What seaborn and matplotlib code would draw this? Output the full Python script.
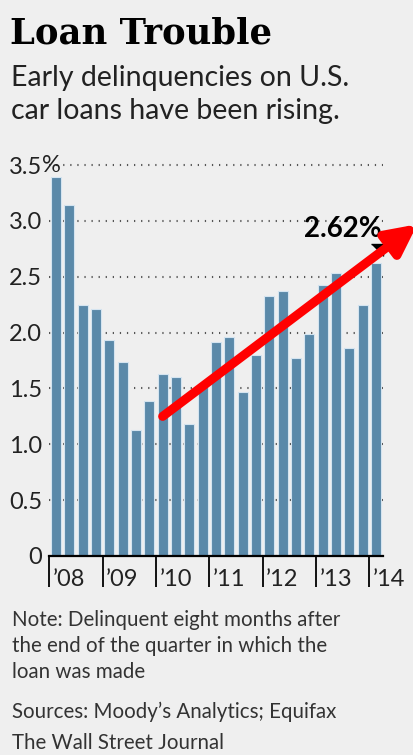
import numpy as np
import seaborn as sns
import matplotlib.pyplot as plt
from matplotlib.transforms import blended_transform_factory

# data: early delinquency rate per quarter, 2008Q1 - 2014Q1
quarters = [f"{y}Q{q}" for y in range(2008, 2015) for q in range(1, 5)][:25]
rates = [3.39, 3.14, 2.25, 2.21, 1.93, 1.74, 1.13, 1.39, 1.63, 1.60,
         1.18, 1.53, 1.92, 1.96, 1.47, 1.80, 2.33, 2.37, 1.77, 1.99,
         2.43, 2.53, 1.86, 2.25, 2.62]
year_labels = ["\u201908", "\u201909", "\u201910", "\u201911", "\u201912", "\u201913", "\u201914"]
ytick_vals = [0, 0.5, 1.0, 1.5, 2.0, 2.5, 3.0, 3.5]
ytick_labels = ["0", "0.5", "1.0", "1.5", "2.0", "2.5", "3.0", "3.5"]
# hand-drawn red trend arrow (bar index, value)
arrow_tail = (8.0, 1.25)
arrow_tip = (27.1, 2.97)

BG = "#efefef"
BAR = "#5a89a9"
FONT = "Lato"

sns.set_theme(style="white")
plt.rcParams["font.family"] = [FONT, "DejaVu Sans"]

W, H = 414, 755
fig = plt.figure(figsize=(W / 100, H / 100), dpi=100, facecolor=BG)
ax = fig.add_axes([49.3 / W, 199 / H, 333.4 / W, 402.1 / H], facecolor=BG)

sns.barplot(x=quarters, y=rates, color=BAR, saturation=1, width=0.75,
            edgecolor="#d4e4f0", linewidth=0.8, ax=ax, zorder=2)

ax.set_xlim(-0.5, len(quarters) - 0.5)
ax.set_ylim(0, 3.6)
ax.set_xlabel("")
ax.set_ylabel("")

# y axis: labels only, dotted grid
ax.set_yticks(ytick_vals)
ax.set_yticklabels(ytick_labels, fontsize=17, color="#222222")
ax.tick_params(axis="y", length=0, pad=5)
ax.yaxis.grid(True, color="#555555", linestyle=(0, (0.6, 2.8)), linewidth=1.5, zorder=0)
ax.xaxis.grid(False)
ax.set_axisbelow(True)
ax.text(-7.3 / 333.4, 3.5, "%", transform=blended_transform_factory(ax.transAxes, ax.transData),
        ha="left", va="center", fontsize=17, color="#222222")

# x axis: long ticks at year boundaries, labels to the right of each tick
year_pos = [i * 4 - 0.5 for i in range(len(year_labels))]
ax.set_xticks(year_pos)
ax.set_xticklabels([])
ax.tick_params(axis="x", bottom=True, length=22, width=1.3, color="black", direction="out")
trans = blended_transform_factory(ax.transData, ax.transAxes)
for p, lab in zip(year_pos, year_labels):
    ax.text(p + 0.25, -30.5 / 402.1, lab, transform=trans, ha="left", va="baseline",
            fontsize=17, color="#222222")

for s in ["top", "right", "left"]:
    ax.spines[s].set_visible(False)
ax.spines["bottom"].set_color("black")
ax.spines["bottom"].set_linewidth(1.6)

# last value callout
ax.text(len(rates) - 1 + 0.45, rates[-1] + 0.24, "2.62%", ha="right", va="baseline",
        fontsize=20, fontweight="bold", color="black")
ax.plot(len(rates) - 1 + 0.05, rates[-1] + 0.12, marker=[(-1, 1), (1, 1), (1, -1)],
        markersize=8, color="black", clip_on=False)

# red arrow
ax.annotate("", xy=arrow_tip, xytext=arrow_tail, annotation_clip=False,
            arrowprops=dict(arrowstyle="-|>", color="#ff0000", lw=6.5,
                            mutation_scale=45, shrinkA=0, shrinkB=0))

def ftext(x, y, s, **kw):
    fig.text(x / W, 1 - y / H, s, va="baseline", ha="left", **kw)

ftext(10, 43, "Loan Trouble", fontsize=25.5, fontweight="bold", family="DejaVu Serif", color="black")
ftext(11, 86, "Early delinquencies on U.S.", fontsize=20.5, color="#222222")
ftext(11, 119, "car loans have been rising.", fontsize=20.5, color="#222222")
ftext(12, 626, "Note: Delinquent eight months after", fontsize=14.8, color="#333333")
ftext(12, 652.5, "the end of the quarter in which the", fontsize=14.8, color="#333333")
ftext(12, 678, "loan was made", fontsize=14.8, color="#333333")
ftext(12, 718, "Sources: Moody\u2019s Analytics; Equifax", fontsize=14.8, color="#333333")
ftext(12, 749, "The Wall Street Journal", fontsize=14.8, color="#333333")

fig.savefig("out.png", dpi=100, facecolor=BG)
